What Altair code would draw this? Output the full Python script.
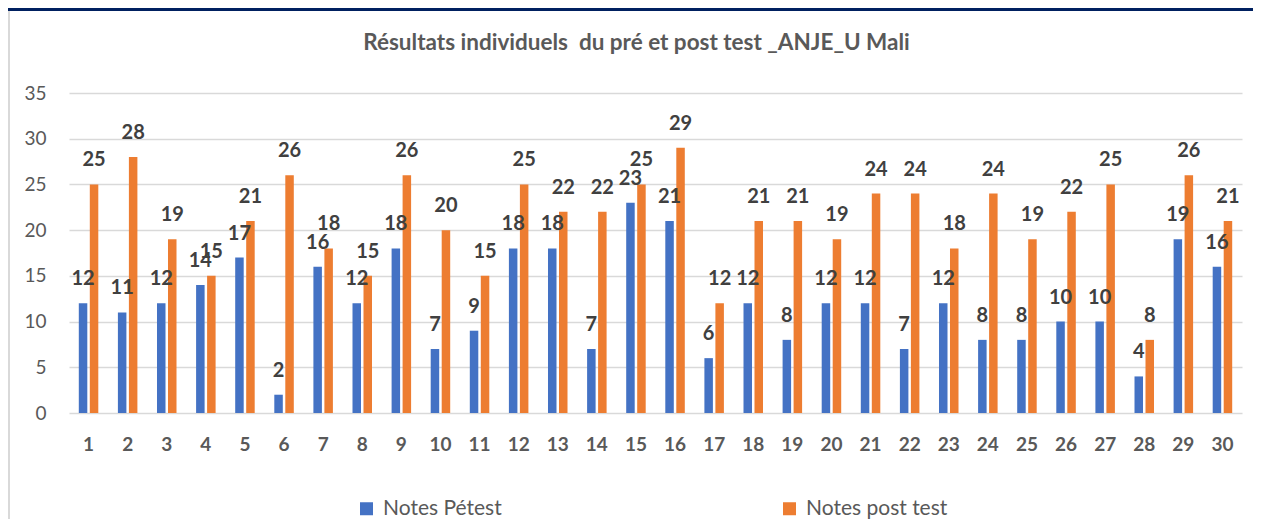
import altair as alt
import pandas as pd

participants = [str(i) for i in range(1, 31)]
pre_test = [12, 11, 12, 14, 17, 2, 16, 12, 18, 7, 9, 18, 18, 7, 23,
            21, 6, 12, 8, 12, 12, 7, 12, 8, 8, 10, 10, 4, 19, 16]
post_test = [25, 28, 19, 15, 21, 26, 18, 15, 26, 20, 15, 25, 22, 22, 25,
             29, 12, 21, 21, 19, 24, 24, 18, 24, 19, 22, 25, 8, 26, 21]
series = ["Notes Pétest", "Notes post test"]
colors = ["#4472C4", "#ED7D31"]
y_ticks = [0, 5, 10, 15, 20, 25, 30, 35]
title_text = "Résultats individuels\u00a0 du pré et post test _ANJE_U Mali"

rows = []
for p, a, b in zip(participants, pre_test, post_test):
    rows.append({"participant": p, "serie": series[0], "note": a})
    rows.append({"participant": p, "serie": series[1], "note": b})
df = pd.DataFrame(rows)

W, H = 1173, 320
PAD = {"left": 61, "top": 85, "right": 13, "bottom": 106}

x_enc = alt.X(
    "participant:N", sort=participants,
    scale=alt.Scale(paddingInner=0, paddingOuter=0),
    axis=alt.Axis(title=None, labelAngle=0, labelFont="Lato", labelFontSize=19,
                  labelFontWeight="bold", labelColor="#595959", ticks=False,
                  domain=False, labelPadding=22, grid=False),
)
xoff_enc = alt.XOffset("serie:N", sort=series,
                       scale=alt.Scale(paddingInner=0.227, paddingOuter=0.891))
y_enc = alt.Y(
    "note:Q", scale=alt.Scale(domain=[0, 35], nice=False),
    axis=alt.Axis(title=None, values=y_ticks, labelFont="Lato", labelFontSize=19,
                  labelColor="#595959", ticks=False, domain=False, labelPadding=23,
                  grid=True, gridColor="#d9d9d9", gridWidth=1.5),
)
color_enc = alt.Color(
    "serie:N", sort=series,
    scale=alt.Scale(domain=series, range=colors),
    legend=alt.Legend(title=None, orient="none", legendX=287, legendY=405,
                      direction="horizontal", symbolType="square", symbolSize=169,
                      symbolStrokeWidth=0, labelFont="Lato", labelFontSize=21,
                      labelColor="#595959", columnPadding=277, labelOffset=6,
                      padding=0),
)

bars = alt.Chart(df).mark_bar().encode(
    x=x_enc, xOffset=xoff_enc, y=y_enc, color=color_enc
)
labels = alt.Chart(df).mark_text(
    baseline="alphabetic", dy=-18, font="Lato", fontSize=20, fontWeight="bold",
    color="#404040"
).encode(x=x_enc, xOffset=xoff_enc, y=y_enc, text="note:Q")

deco = pd.DataFrame({"k": [0]})
band = alt.Chart(deco).mark_rect(color="#002060").encode(
    x=alt.value(-61), x2=alt.value(1184), y=alt.value(-85), y2=alt.value(-82)
)
border = alt.Chart(deco).mark_rule(color="#d9d9d9", strokeWidth=2).encode(
    x=alt.value(-60), y=alt.value(-82), y2=alt.value(H + 106)
)

chart = alt.layer(band, border, bars, labels).properties(
    width=W, height=H,
    autosize=alt.AutoSizeParams(type="none"),
    padding=PAD,
    title=alt.Title(title_text, font="Lato", fontSize=22.5, fontWeight="bold",
                    color="#595959", anchor="middle", dx=-19, offset=-64,
                    baseline="alphabetic"),
).configure_view(stroke=None)

chart.save("out.html", embed_options={"renderer": "svg", "actions": False})
